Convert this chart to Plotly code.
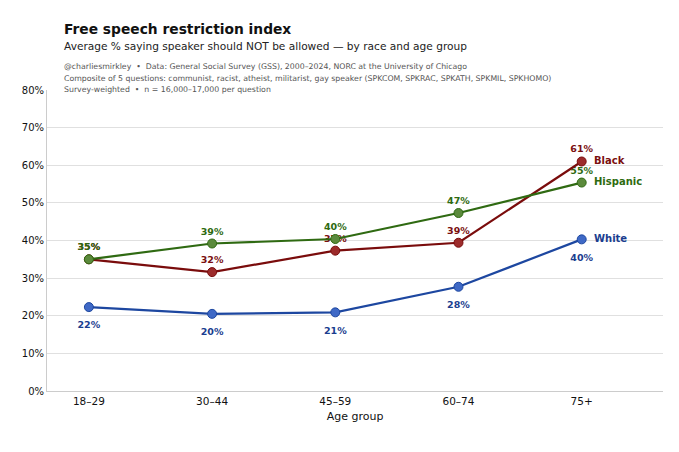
import plotly.graph_objects as go

ages = ["18–29", "30–44", "45–59", "60–74", "75+"]
white = [22.3, 20.5, 20.9, 27.7, 40.3]
black = [35.0, 31.6, 37.3, 39.4, 61.0]
hispanic = [35.0, 39.2, 40.4, 47.3, 55.4]
y_ticks = [0, 10, 20, 30, 40, 50, 60, 70, 80]
y_ticklabels = [f"{v}%" for v in y_ticks]

FONT = "DejaVu Sans"

series = [
    ("White", white, "#1d47a0", "#3f69c6", "#1a3d8f", "bottom center", 21),
    ("Black", black, "#7a0c0c", "#9c2b2b", "#7a0f0f", "top center", 9),
    ("Hispanic", hispanic, "#2f6a12", "#5b8a3c", "#2e6a10", "top center", 9),
]

fig = go.Figure()
# value labels first, so lines and markers are drawn above them
for name, vals, lc, mc, tc, pos, msz in series:
    fig.add_trace(go.Scatter(
        x=ages, y=vals, mode="markers+text",
        marker=dict(size=msz, color="rgba(0,0,0,0)"),
        text=[f"<b>{round(v)}%</b>" for v in vals], textposition=pos,
        textfont=dict(family=FONT, size=9.5, color=tc),
        cliponaxis=False, showlegend=False, hoverinfo="skip",
    ))
for name, vals, lc, mc, tc, pos, msz in series:
    fig.add_trace(go.Scatter(
        x=ages, y=vals, mode="lines+markers", name=name,
        line=dict(color=lc, width=2.2),
        marker=dict(size=9, color=mc, line=dict(color=lc, width=1)),
        cliponaxis=False, showlegend=False,
    ))
    fig.add_annotation(x=ages[-1], y=vals[-1], text=f"<b>{name}</b>", showarrow=False,
                       xanchor="left", yanchor="middle", xshift=10, yshift=1,
                       font=dict(family=FONT, size=10, color=tc))

notes = [
    ("@charliesmirkley  •  Data: General Social Survey (GSS), 2000–2024, NORC at the University of Chicago", 1.0774),
    ("Composite of 5 questions: communist, racist, atheist, militarist, gay speaker (SPKCOM, SPKRAC, SPKATH, SPKMIL, SPKHOMO)", 1.0389),
    ("Survey-weighted  •  n = 16,000–17,000 per question", 1.0033),
]
TX = 0.0244
fig.add_annotation(xref="paper", yref="paper", x=TX, y=1.2017, xanchor="left", yanchor="middle",
                   text="<b>Free speech restriction index</b>", showarrow=False,
                   font=dict(family=FONT, size=13.8, color="#111111"))
fig.add_annotation(xref="paper", yref="paper", x=TX, y=1.146, xanchor="left", yanchor="middle",
                   text="Average % saying speaker should NOT be allowed — by race and age group", showarrow=False,
                   font=dict(family=FONT, size=10.6, color="#222222"))
for t, yy in notes:
    fig.add_annotation(xref="paper", yref="paper", x=TX, y=yy, xanchor="left", yanchor="middle",
                       text=t, showarrow=False, font=dict(family=FONT, size=7.8, color="#555555"))

fig.update_layout(
    width=679, height=452,
    margin=dict(l=47, r=16, t=90, b=61),
    plot_bgcolor="white", paper_bgcolor="white",
    font=dict(family=FONT, color="#111111"),
    xaxis=dict(range=[-0.34, 4.66], showgrid=False, showline=True, linecolor="#cccccc",
               ticks="", tickfont=dict(size=10.5, color="#111111"),
               title=dict(text="Age group", font=dict(size=11), standoff=6), zeroline=False),
    yaxis=dict(range=[0, 80], tickvals=y_ticks, ticktext=y_ticklabels, showgrid=True,
               gridcolor="#e0e0e0", gridwidth=1, showline=True, linecolor="#cccccc",
               ticks="", tickfont=dict(size=10, color="#111111"), zeroline=False),
)

fig.write_html("out.html")
